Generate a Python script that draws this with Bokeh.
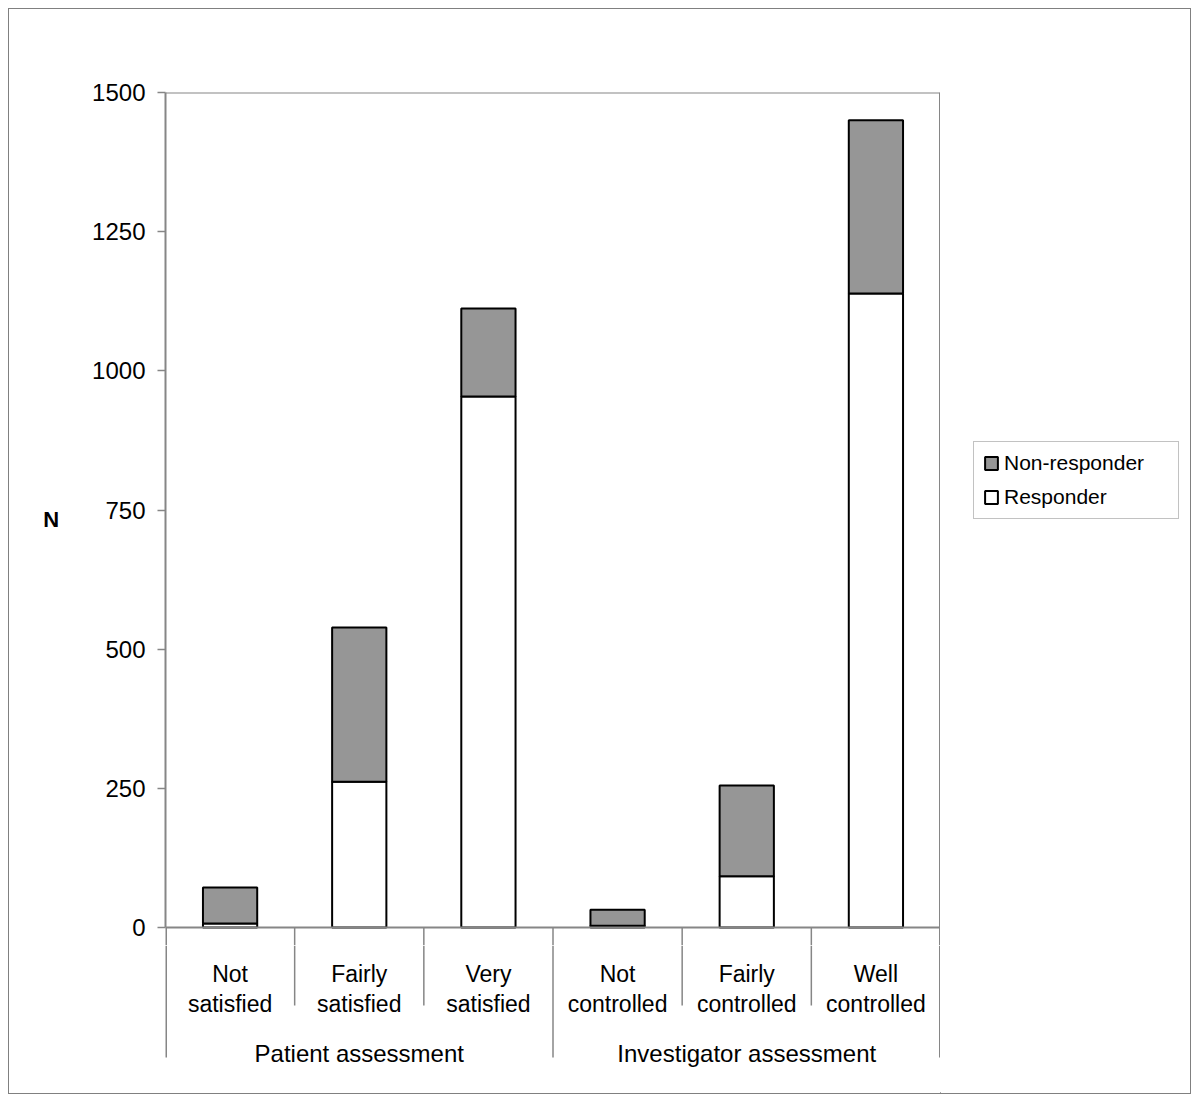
import numpy as np
from bokeh.plotting import figure
from bokeh.layouts import column, row
from bokeh.models import Range1d, FixedTicker, Span, Legend, LegendItem, ColumnDataSource
from bokeh.core.properties import value
from bokeh.embed import file_html
from bokeh.resources import INLINE

# ---- data ----
groups = ["Patient assessment", "Investigator assessment"]
categories = ["Not\nsatisfied", "Fairly\nsatisfied", "Very\nsatisfied",
              "Not\ncontrolled", "Fairly\ncontrolled", "Well\ncontrolled"]
category_group = [0, 0, 0, 1, 1, 1]
responder = [7, 262, 954, 3, 92, 1139]
non_responder = [65, 277, 158, 29, 163, 311]
y_ticks = [0, 250, 500, 750, 1000, 1250, 1500]
y_label = "N"
series_names = ["Non-responder", "Responder"]

# ---- styling / layout constants ----
FONT = "Liberation Sans"
GRAY_FILL = "#969696"
AXIS_GRAY = "#868686"
BAR_W = 0.42
n = len(categories)
y_max = max(y_ticks)
PLOT_PX = 835          # px from 0 to y_max
EXT_PX = 18            # main frame extends this many px below zero
y_start = -y_max * EXT_PX / PLOT_PX

centers = np.arange(n) + 0.5
total = [r + nr for r, nr in zip(responder, non_responder)]
line1 = [c.split("\n")[0] for c in categories]
line2 = [c.split("\n")[1] for c in categories]
src = ColumnDataSource(dict(x=centers, resp=responder, total=total, l1=line1, l2=line2))

x_range = Range1d(0, n)
is_edge = lambda b: b == 0 or b == n or category_group[b] != category_group[b - 1]
bx = list(range(0, n + 1))

# ---------------- main plot ----------------
P_H = 83 + PLOT_PX + EXT_PX
p = figure(width=931, height=P_H,
           x_range=x_range, y_range=Range1d(y_start, y_max),
           x_axis_location=None, output_backend="svg", toolbar_location=None,
           min_border_left=156, min_border_right=0, min_border_top=83, min_border_bottom=0)
p.outline_line_color = None
p.xgrid.visible = False
p.ygrid.visible = False
p.border_fill_color = "white"

ya = p.yaxis[0]
ya.ticker = FixedTicker(ticks=y_ticks)
ya.bounds = (0, y_max)
ya.axis_line_color = AXIS_GRAY
ya.axis_line_width = 2
ya.major_tick_line_color = AXIS_GRAY
ya.major_tick_line_width = 1.5
ya.major_tick_out = 8
ya.major_tick_in = 0
ya.minor_tick_line_color = None
ya.major_label_text_font = FONT
ya.major_label_text_font_size = "24px"
ya.major_label_text_color = "black"
ya.major_label_standoff = 12
ya.axis_label = y_label
ya.axis_label_orientation = "horizontal"
ya.axis_label_text_font = FONT
ya.axis_label_text_font_size = "22px"
ya.axis_label_text_font_style = "bold"
ya.axis_label_text_color = "black"
ya.axis_label_standoff = 30

p.add_layout(Span(location=y_max, dimension="width", line_color=AXIS_GRAY, line_width=2))
p.add_layout(Span(location=0, dimension="width", line_color=AXIS_GRAY, line_width=2))
p.add_layout(Span(location=n, dimension="height", line_color=AXIS_GRAY, line_width=3))
p.segment(x0=bx, y0=[0] * len(bx), x1=bx, y1=[y_start] * len(bx), line_color=AXIS_GRAY,
          line_width=[3 if b in (0, n) else 1.5 for b in bx])

r_resp = p.vbar(x="x", bottom=0, top="resp", width=BAR_W, source=src,
                fill_color="white", line_color="black", line_width=2)
r_non = p.vbar(x="x", bottom="resp", top="total", width=BAR_W, source=src,
               fill_color=GRAY_FILL, line_color="black", line_width=2)

# ---------------- category label strip ----------------
Q_H = 1084 - P_H
STRIP_H = Q_H - 20         # frame height in px (1 data unit = 1 px)
SEP_FULL = -(130 - EXT_PX)
SEP_SHORT = -(78 - EXT_PX)
q = figure(width=931, height=Q_H,
           x_range=x_range, y_range=Range1d(-STRIP_H, 0),
           x_axis_location=None, y_axis_location=None,
           output_backend="svg", toolbar_location=None,
           min_border_left=156, min_border_right=0, min_border_top=0,
           min_border_bottom=Q_H - STRIP_H)
q.outline_line_color = None
q.xgrid.visible = False
q.ygrid.visible = False
q.border_fill_color = "white"

by1 = [SEP_FULL if is_edge(b) else SEP_SHORT for b in bx]
q.segment(x0=bx, y0=[0] * len(bx), x1=bx, y1=by1, line_color=AXIS_GRAY,
          line_width=[3 if b in (0, n) else 1.5 for b in bx])

for col, off in [("l1", 46), ("l2", 76)]:
    q.text(x="x", y=0, text=col, source=src, y_offset=off - EXT_PX,
           text_align="center", text_baseline="alphabetic",
           text_font=value(FONT), text_font_size="23px", text_color="black")

gx = [float(np.mean([c for c, g in zip(centers, category_group) if g == gi])) for gi in range(len(groups))]
q.text(x=gx, y=[0] * len(groups), text=groups, y_offset=126 - EXT_PX,
       text_align="center", text_baseline="alphabetic",
       text_font=value(FONT), text_font_size="24px", text_color="black")

# ---------------- legend panel ----------------
lf = figure(width=250, height=1084, x_range=Range1d(0, 1), y_range=Range1d(0, 1),
            x_axis_location=None, y_axis_location=None,
            output_backend="svg", toolbar_location=None,
            min_border_left=0, min_border_right=0, min_border_top=0, min_border_bottom=0)
lf.outline_line_color = None
lf.xgrid.visible = False
lf.ygrid.visible = False
lf.border_fill_color = "white"
# legend proxies: one row each, placed outside the visible range of this panel
proxy = ColumnDataSource(dict(x=[-5.0], b=[-5.0], t=[-4.0]))
lr_non = lf.vbar(x="x", bottom="b", top="t", width=0.1, source=proxy,
                 fill_color=GRAY_FILL, line_color="black", line_width=2)
lr_resp = lf.vbar(x="x", bottom="b", top="t", width=0.1, source=proxy,
                  fill_color="white", line_color="black", line_width=2)
legend = Legend(items=[LegendItem(label=series_names[0], renderers=[lr_non]),
                       LegendItem(label=series_names[1], renderers=[lr_resp])],
                location=(33, 574), padding=9, spacing=10, margin=0,
                glyph_width=16, glyph_height=16, label_standoff=5,
                label_width=165, label_height=20,
                label_text_font=FONT, label_text_font_size="21px", label_text_color="black",
                border_line_color=AXIS_GRAY, border_line_width=1.5,
                background_fill_color="white", background_fill_alpha=1.0)
lf.add_layout(legend)

layout = row(column(p, q, spacing=0), lf, spacing=0,
             styles={"border": "1px solid #808080", "margin": "8px 0 0 8px"})

open("out.html", "w").write(file_html(layout, INLINE))
